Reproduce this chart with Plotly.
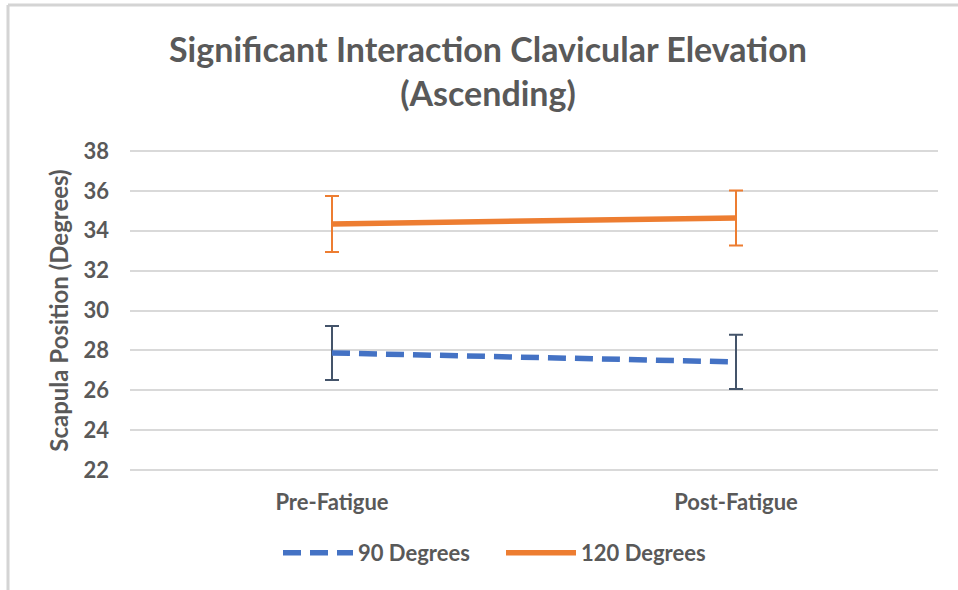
import plotly.graph_objects as go

categories = ["Pre-Fatigue", "Post-Fatigue"]
deg90 = [27.87, 27.42]
deg90_err = [1.35, 1.36]
deg120 = [34.34, 34.64]
deg120_err = [1.40, 1.38]
y_ticks = [22, 24, 26, 28, 30, 32, 34, 36, 38]

GREY = "#595959"
FONT = "Lato"

fig = go.Figure()
fig.add_trace(go.Scatter(
    x=categories, y=deg90, name="90 Degrees", mode="lines",
    line=dict(color="#4472C4", width=5.5, dash="18px,9px"),
    error_y=dict(type="data", array=deg90_err, visible=True,
                 color="#44546A", thickness=2, width=7),
))
fig.add_trace(go.Scatter(
    x=categories, y=deg120, name="120 Degrees", mode="lines",
    line=dict(color="#ED7D31", width=5.5),
    error_y=dict(type="data", array=deg120_err, visible=True,
                 color="#ED7D31", thickness=2, width=7),
))

L, R, T, B = 130, 20, 149, 118
W, H = 958, 590
pw, ph = W - L - R, H - T - B

def px_x(p):
    return (p - L) / pw

def px_y(p):
    return (H - B - p) / ph

fig.update_layout(
    width=W, height=H,
    margin=dict(l=L, r=R, t=T, b=B),
    paper_bgcolor="white", plot_bgcolor="white",
    font=dict(family=FONT, color=GREY, size=22),
    title=dict(
        text="<b>Significant Interaction Clavicular Elevation<br>(Ascending)</b>",
        x=px_x(488), xanchor="center", xref="paper",
        y=1 - 62 / H, yanchor="top",
        font=dict(family=FONT, size=34, color=GREY),
    ),
    xaxis=dict(
        type="category", range=[-0.5, 1.5], showgrid=False,
        showline=False, zeroline=False, ticks="",
        tickfont=dict(family=FONT, size=22, color=GREY, weight="bold"),
        ticklabelstandoff=15,
    ),
    yaxis=dict(
        range=[21.9, 38.1], tickvals=y_ticks, showgrid=True,
        gridcolor="#D9D9D9", gridwidth=1.5, zeroline=False,
        showline=False, ticks="",
        tickfont=dict(family=FONT, size=22, color=GREY, weight="bold"),
        ticklabelstandoff=20,
        title=dict(text="Scapula Position (Degrees)", standoff=8,
                   font=dict(family=FONT, size=24, color=GREY, weight="bold")),
    ),
    showlegend=True,
    legend=dict(
        orientation="h", x=px_x(278), xanchor="left", xref="paper",
        y=px_y(553), yanchor="middle", itemwidth=70,
        entrywidth=138, entrywidthmode="pixels",
        font=dict(family=FONT, size=22, color=GREY, weight="bold"),
        traceorder="normal",
    ),
    shapes=[
        dict(type="line", xref="paper", yref="paper",
             x0=px_x(8), x1=px_x(W + 5), y0=px_y(5), y1=px_y(5),
             line=dict(color="#D4D4D4", width=3)),
        dict(type="line", xref="paper", yref="paper",
             x0=px_x(8), x1=px_x(8), y0=px_y(5), y1=px_y(H + 5),
             line=dict(color="#D4D4D4", width=3)),
    ],
)

fig.write_html("out.html")
